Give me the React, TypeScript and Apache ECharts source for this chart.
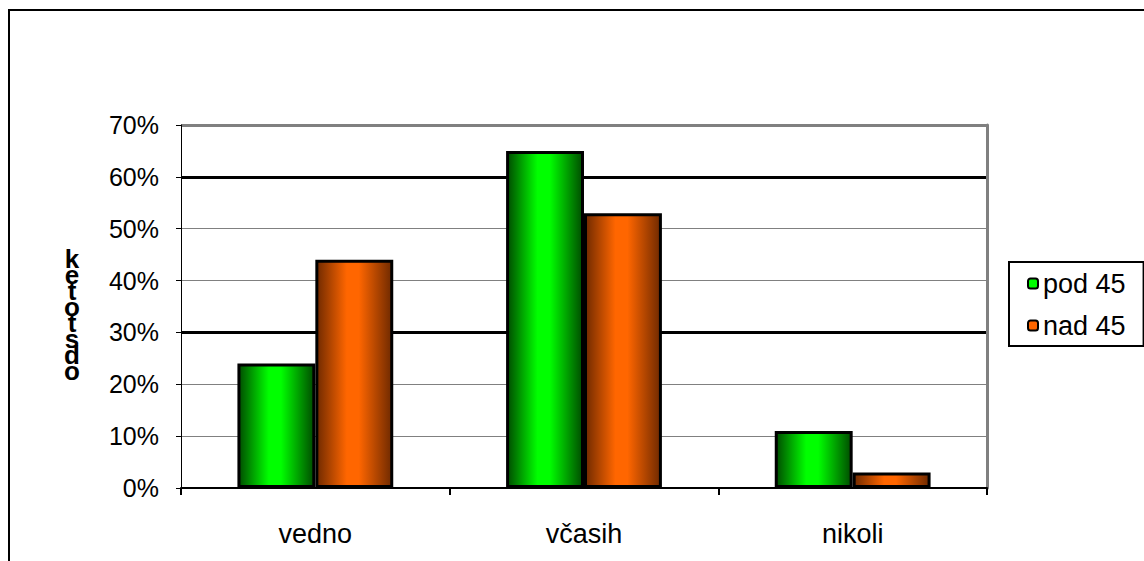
import React, { useEffect, useRef } from "react";
import * as echarts from "echarts";

const categories = ["vedno", "včasih", "nikoli"];
const seriesNames = ["pod 45", "nad 45"];
const pod45 = [24, 65, 11];
const nad45 = [44, 53, 3];
const yTicks = { min: 0, max: 70, interval: 10 };
const yAxisTitleLetters = ["k", "e", "t", "o", "t", "s", "d", "o"];

const FONT = "Liberation Sans, Arial, sans-serif";

function grad(edgeL: string, mid: string, edgeR: string) {
  return new echarts.graphic.LinearGradient(0, 0, 1, 0, [
    { offset: 0, color: edgeL },
    { offset: 0.4, color: mid },
    { offset: 0.56, color: mid },
    { offset: 1, color: edgeR },
  ]);
}

export default function App() {
  const ref = useRef<HTMLDivElement>(null);
  useEffect(() => {
    if (!ref.current) return;
    const chart = echarts.init(ref.current, null, { renderer: "svg" });
    const option: any = {
      animation: false,
      backgroundColor: "#fff",
      textStyle: { fontFamily: FONT },
      grid: { left: 181, right: 157, top: 125, bottom: 73 },
      legend: {
        orient: "vertical",
        left: 1009,
        top: 262,
        itemWidth: 10,
        itemHeight: 10,
        itemGap: 15,
        padding: [8, 18, 7, 18],
        borderColor: "#000",
        borderWidth: 2,
        textStyle: { fontSize: 27, color: "#000", fontFamily: FONT },
        data: [
          { name: seriesNames[0], itemStyle: { color: "#00ff00", borderColor: "#000", borderWidth: 2 } },
          { name: seriesNames[1], itemStyle: { color: "#ff6600", borderColor: "#000", borderWidth: 2 } },
        ],
      },
      xAxis: {
        type: "category",
        data: categories,
        axisLine: { show: true, lineStyle: { color: "#000", width: 2 } },
        axisTick: { show: true, length: 7, lineStyle: { color: "#000", width: 2 } },
        axisLabel: { fontSize: 27, color: "#000", margin: 32, fontFamily: FONT },
        splitLine: { show: false },
      },
      yAxis: [
        {
          type: "value",
          min: yTicks.min,
          max: yTicks.max,
          interval: yTicks.interval,
          axisLine: { show: true, lineStyle: { color: "#000", width: 1 } },
          axisTick: { show: true, length: 5, lineStyle: { color: "#000", width: 1 } },
          axisLabel: { fontSize: 25, color: "#000", margin: 22, formatter: "{value}%", fontFamily: FONT },
          splitLine: { show: true, lineStyle: { color: "#808080", width: 1 } },
        },
        {
          type: "value",
          position: "right",
          min: 0,
          max: 70,
          interval: 30,
          axisLine: { show: true, lineStyle: { color: "#808080", width: 3 } },
          axisTick: { show: false },
          axisLabel: { show: false },
          splitLine: {
            show: true,
            lineStyle: { color: ["rgba(0,0,0,0)", "#000", "#000", "#808080"], width: 3 },
          },
        },
      ],
      graphic: [
        {
          type: "rect",
          shape: { x: 9, y: 10, width: 1300, height: 700 },
          style: { fill: "none", stroke: "#000", lineWidth: 2 },
          silent: true,
        },
        {
          type: "text",
          x: 72,
          y: 251,
          style: {
            text: yAxisTitleLetters.join("\n"),
            font: "bold 26px Liberation Sans, Arial, sans-serif",
            lineHeight: 16,
            textAlign: "center",
            textVerticalAlign: "top",
            fill: "#000",
          },
        },
      ],
      series: [
        {
          name: seriesNames[0],
          type: "bar",
          data: pod45,
          barGap: "0%",
          barCategoryGap: "42%",
          itemStyle: {
            color: grad("#004d00", "#00ff00", "#004d00"),
            borderColor: "#000",
            borderWidth: 3,
          },
        },
        {
          name: seriesNames[1],
          type: "bar",
          data: nad45,
          barGap: "0%",
          barCategoryGap: "42%",
          itemStyle: {
            color: grad("#702a00", "#ff6600", "#702a00"),
            borderColor: "#000",
            borderWidth: 3,
          },
        },
      ],
    };
    chart.setOption(option);
    return () => chart.dispose();
  }, []);
  return (
    <div
      ref={ref}
      style={{ position: "fixed", left: 0, top: 0, width: 1144, height: 561 }}
    />
  );
}
